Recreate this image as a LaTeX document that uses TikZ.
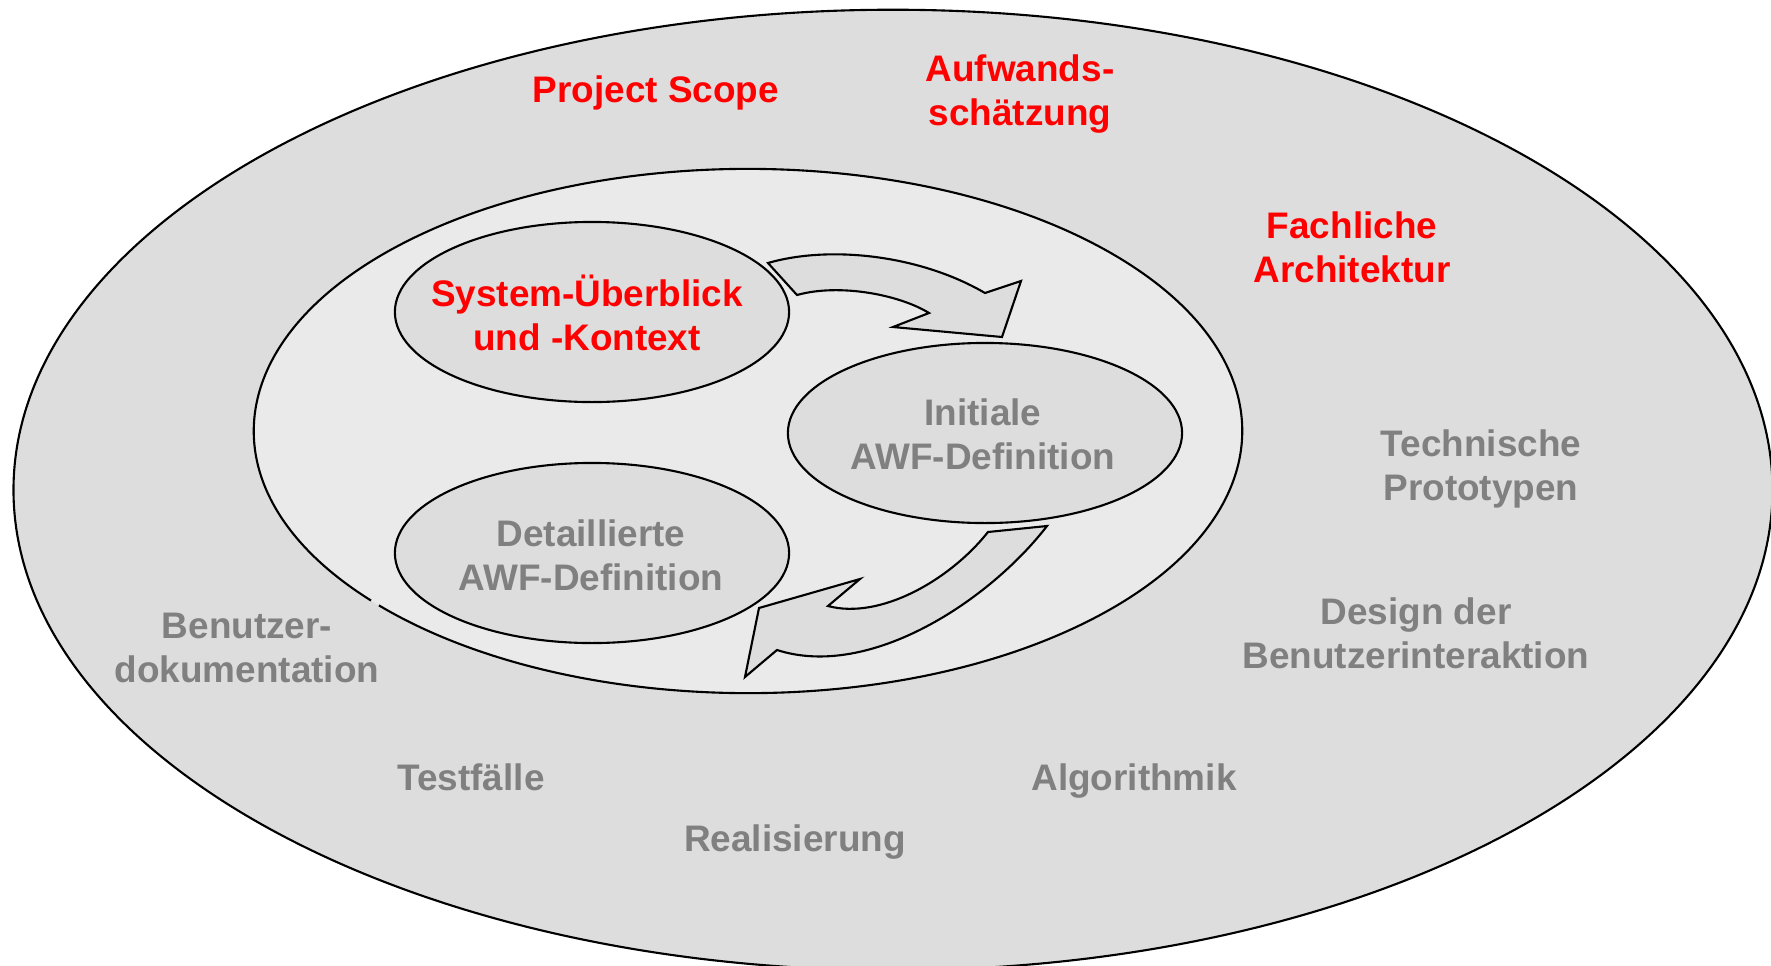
\documentclass[tikz,border=0pt]{standalone}
\usepackage{fontspec}
\setmainfont{Liberation Sans}
\usetikzlibrary{shapes.geometric}
\definecolor{ringgray}{HTML}{DDDDDD}
\definecolor{coregray}{HTML}{EAEAEA}
\definecolor{labelgray}{HTML}{808080}
\definecolor{labelred}{HTML}{FF0000}
\tikzset{
  lbl/.style={font=\fontsize{10.5}{12.5}\selectfont\bfseries, align=center, inner sep=0pt},
  redlbl/.style={lbl, text=labelred},
  graylbl/.style={lbl, text=labelgray},
  phase/.style={ellipse, draw, fill=ringgray, minimum width=3.94cm, minimum height=1.8cm, inner sep=0pt},
  cyclearrow/.style={draw, fill=ringgray, line join=miter}
}
\begin{document}
\begin{tikzpicture}[x=0.01cm, y=-0.01cm, line width=0.6pt]
\useasboundingbox (0,0) rectangle (1771,966);
\filldraw[fill=ringgray] (893,490) ellipse [x radius=8.79cm, y radius=4.8cm];
\fill[coregray] (748,431) ellipse [x radius=4.94cm, y radius=2.62cm];
\draw ([shift={(221.7:4.94cm and 2.62cm)}]748,431) arc [start angle=221.7, end angle=580.3, x radius=4.94cm, y radius=2.62cm];
\node[phase] (overview) at (592,312) {};
\node[phase] (initial) at (985,433) {};
\node[phase] (detailed) at (592,553) {};
\node[redlbl] (overview text) at (587,313) {System-Überblick\\und -Kontext};
\node[graylbl] (initial text) at (983,434) {Initiale\\AWF-Definition};
\node[graylbl] (detailed text) at (591,555) {Detaillierte\\AWF-Definition};
\draw[cyclearrow] (768,263) .. controls (830,245) and (920,255) .. (985,293) -- (1021,281) -- (1002,337) -- (893,327) -- (929,313) .. controls (900,295) and (840,283) .. (797,295) -- cycle;
\draw[cyclearrow] (1047,526) .. controls (990,600) and (870,680) .. (777,650) -- (745,677) -- (759,608) -- (860,579) -- (828,606) .. controls (880,620) and (950,580) .. (988,532) -- cycle;
\node[redlbl] (scope) at (656,93) {Project Scope};
\node[redlbl] (effort) at (1020,94) {Aufwands-\\schätzung};
\node[redlbl] (domain) at (1352,247) {Fachliche\\Architektur};
\node[graylbl] (proto) at (1481,469) {Technische\\Prototypen};
\node[graylbl] (uxdesign) at (1416,633) {Design der\\Benutzerinteraktion};
\node[graylbl] (userdoc) at (247,648) {Benutzer-\\dokumentation};
\node[graylbl] (tests) at (471,777) {Testfälle};
\node[graylbl] (algo) at (1134,781) {Algorithmik};
\node[graylbl] (impl) at (795,842) {Realisierung};
\end{tikzpicture}
\end{document}
